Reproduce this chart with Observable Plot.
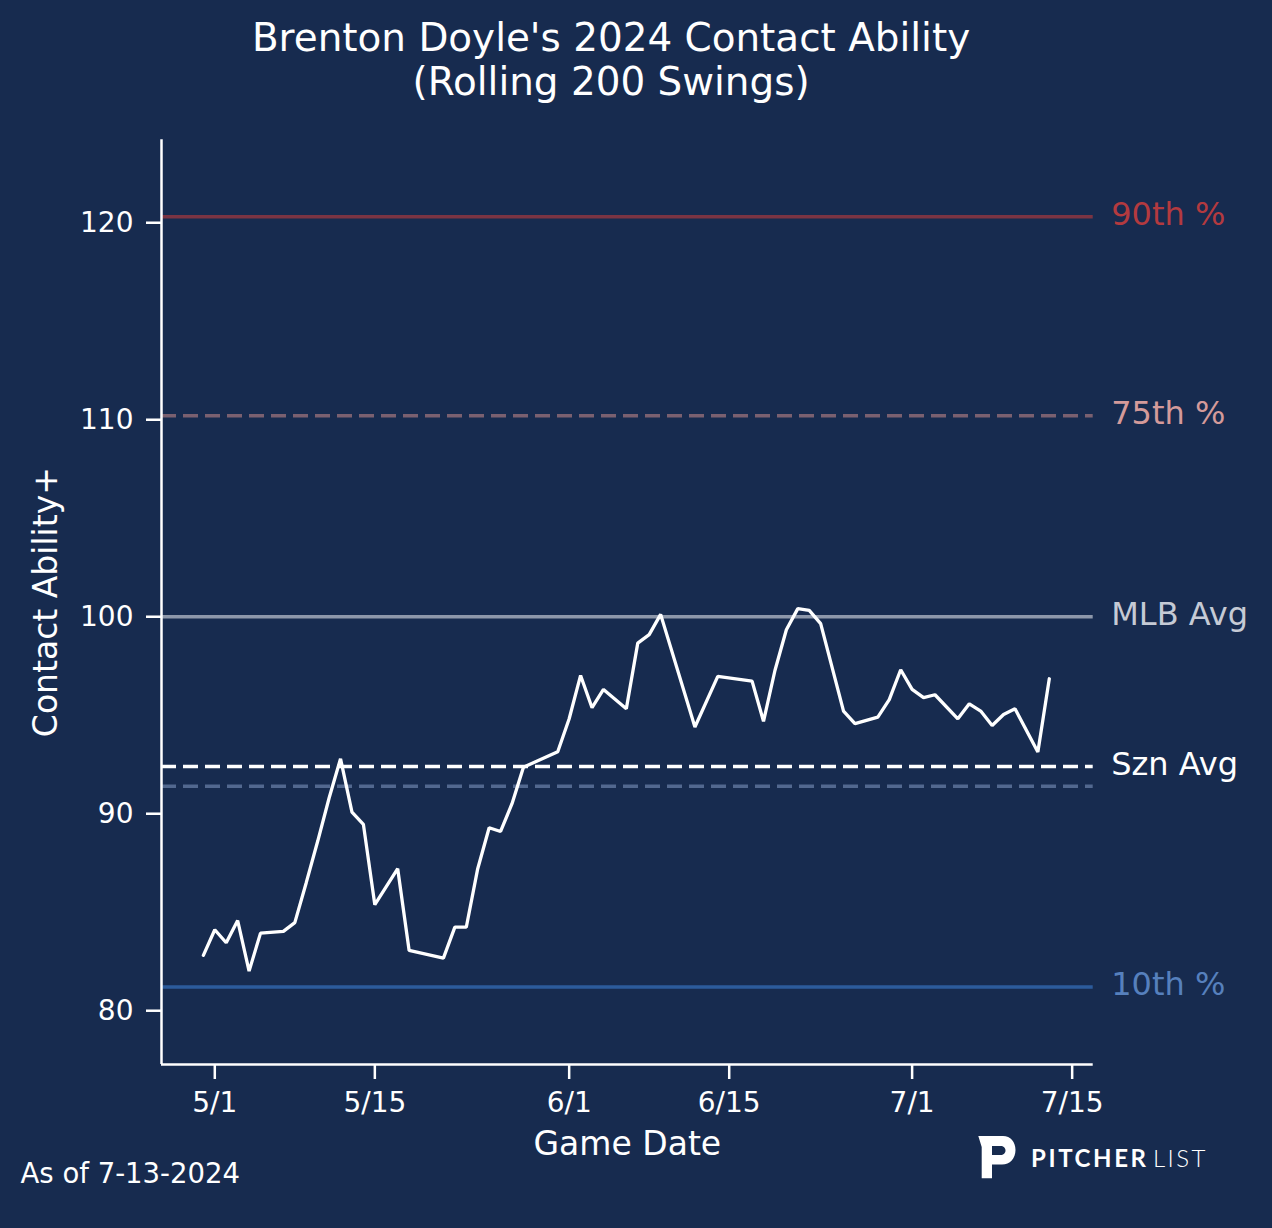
<!DOCTYPE html>
<html>
<head>
<meta charset="utf-8">
<script src="https://cdn.jsdelivr.net/npm/d3@7"></script>
<script src="https://cdn.jsdelivr.net/npm/@observablehq/plot@0.6"></script>
<style>
html, body { margin: 0; padding: 0; background: #172b4f; }
#chart svg { display: block; }
</style>
</head>
<body>
<div id="chart"></div>
<script>
// ---- Data ----
const dates = [
  "2024-04-30","2024-05-01","2024-05-02","2024-05-03","2024-05-04","2024-05-05","2024-05-07","2024-05-08",
  "2024-05-09","2024-05-10","2024-05-11","2024-05-12","2024-05-13","2024-05-14","2024-05-15","2024-05-17",
  "2024-05-18","2024-05-21","2024-05-22","2024-05-23","2024-05-24","2024-05-25","2024-05-26","2024-05-27",
  "2024-05-28","2024-05-31","2024-06-01","2024-06-02","2024-06-03","2024-06-04","2024-06-06","2024-06-07",
  "2024-06-08","2024-06-09","2024-06-12","2024-06-14","2024-06-17","2024-06-18","2024-06-19","2024-06-20",
  "2024-06-21","2024-06-22","2024-06-23","2024-06-25","2024-06-26","2024-06-28","2024-06-29","2024-06-30",
  "2024-07-01","2024-07-02","2024-07-03","2024-07-05","2024-07-06","2024-07-07","2024-07-08","2024-07-09",
  "2024-07-10","2024-07-12","2024-07-13"
];
const values = [
  82.81, 84.11, 83.45, 84.58, 82.01, 83.94, 84.03, 84.47,
  86.5, 88.6, 90.8, 92.79, 90.08, 89.46, 85.38, 87.21,
  83.06, 82.67, 84.24, 84.24, 87.21, 89.29, 89.10, 90.51,
  92.36, 93.15, 94.82, 97.02, 95.38, 96.31, 95.33, 98.66,
  99.09, 100.12, 94.40, 96.97, 96.73, 94.69, 97.27, 99.34,
  100.41, 100.32, 99.65, 95.21, 94.57, 94.90, 95.79, 97.31,
  96.31, 95.89, 96.04, 94.82, 95.58, 95.21, 94.48, 95.04,
  95.33, 93.13, 96.85
];
const refLabels = ["90th %", "75th %", "MLB Avg", "Szn Avg", "", "10th %"];
const refValues = [120.3, 110.2, 100, 92.4, 91.4, 81.2];
const xTicks = ["2024-05-01","2024-05-15","2024-06-01","2024-06-15","2024-07-01","2024-07-15"];
const xTickLabels = ["5/1","5/15","6/1","6/15","7/1","7/15"];
const yTicks = [80, 90, 100, 110, 120];
const titleLines = ["Brenton Doyle's 2024 Contact Ability", "(Rolling 200 Swings)"];
const xLabel = "Game Date";
const yLabel = "Contact Ability+";
const note = "As of 7-13-2024";
const logoBold = "PITCHER";
const logoLight = "LIST";

// ---- Styles (separate from data) ----
const refStyles = [
  {stroke: "#7b3443", dash: null, text: "#b33a3f"},
  {stroke: "#7a6070", dash: "15,7", text: "#d49a9a"},
  {stroke: "#8d97aa", dash: null, text: "#c5cad5"},
  {stroke: "#ffffff", dash: "15,7", text: "#ffffff"},
  {stroke: "#52688f", dash: "15,7", text: "#52688f"},
  {stroke: "#2c5b9b", dash: null, text: "#5680bd"}
];

const data = dates.map((d, i) => ({date: new Date(d), value: values[i]}));
const refData = refValues.map((v, i) => ({value: v, label: refLabels[i], i}));
const xDomain = [new Date("2024-04-26T08:07Z"), new Date("2024-07-16T20:10Z")];
const yDomain = [77.27, 124.21];
const tickMap = new Map(xTicks.map((d, i) => [+new Date(d), xTickLabels[i]]));

const refRules = refData.map(r => Plot.ruleY([r.value], {
  stroke: refStyles[r.i].stroke,
  strokeWidth: 3.5,
  strokeDasharray: refStyles[r.i].dash
}));
const refTexts = refData.filter(r => r.label).map(r => Plot.text([r], {
  y: "value",
  text: "label",
  frameAnchor: "right",
  textAnchor: "start",
  lineAnchor: "middle",
  dx: 18,
  dy: -2,
  fontSize: 32,
  fill: refStyles[r.i].text
}));

const chart = Plot.plot({
  width: 1272,
  height: 1228,
  marginLeft: 161,
  marginRight: 179.3,
  marginTop: 139.3,
  marginBottom: 164,
  x: {type: "utc", domain: xDomain},
  y: {domain: yDomain},
  style: {background: "#172b4f", fontFamily: "DejaVu Sans", color: "white", overflow: "visible"},
  marks: [
    ...refRules,
    Plot.line(data, {x: "date", y: "value", stroke: "white", strokeWidth: 3.3, strokeLinejoin: "miter"}),
    Plot.ruleX([xDomain[0]], {stroke: "white", strokeWidth: 2.5}),
    Plot.ruleY([yDomain[0]], {stroke: "white", strokeWidth: 2.5}),
    Plot.axisX(xTicks.map(d => new Date(d)), {
      tickFormat: d => tickMap.get(+d),
      tickSize: 15, tickPadding: 13, fontSize: 28,
      stroke: "white", fill: "white", strokeWidth: 2.5, label: null
    }),
    Plot.axisY(yTicks, {
      tickSize: 15, tickPadding: 13, fontSize: 28,
      stroke: "white", fill: "white", strokeWidth: 2.5, label: null
    }),
    ...refTexts,
    Plot.text([titleLines[0]], {text: d => d, frameAnchor: "top", lineAnchor: "middle", textAnchor: "middle", dx: -16.3, dy: -101, fontSize: 38.9, fill: "white"}),
    Plot.text([titleLines[1]], {text: d => d, frameAnchor: "top", lineAnchor: "middle", textAnchor: "middle", dx: -16.3, dy: -57, fontSize: 38.9, fill: "white"}),
    Plot.text([xLabel], {text: d => d, frameAnchor: "bottom", lineAnchor: "middle", textAnchor: "middle", dy: 80, fontSize: 33, fill: "white"}),
    Plot.text([yLabel], {text: d => d, frameAnchor: "left", lineAnchor: "middle", textAnchor: "middle", dx: -115, rotate: -90, fontSize: 33, fill: "white"}),
    Plot.text([note], {text: d => d, frameAnchor: "bottom-left", lineAnchor: "middle", textAnchor: "start", dx: -141, dy: 110, fontSize: 27.5, fill: "white"})
  ]
});

document.getElementById("chart").appendChild(chart);

// ---- Pitcher List logo (decorative) ----
const svg = d3.select(chart.tagName.toLowerCase() === "svg" ? chart : chart.querySelector("svg"));
const logo = svg.append("g").attr("class", "logo").attr("text-anchor", "start");
logo.append("path")
  .attr("fill", "white")
  .attr("fill-rule", "evenodd")
  .attr("d", "M978.3,1136 L1003,1136 C1010.5,1136 1015.5,1142 1015.5,1150 C1015.5,1158.5 1010,1164.5 1002,1164.5 L992,1164.5 L992,1178.3 L981.7,1178.3 L981.7,1147 Z " +
             "M992,1146 L1000.5,1146 C1003.5,1146 1005.5,1148 1005.5,1150.5 C1005.5,1153 1003.5,1155 1000.5,1155 L992,1155 Z");
logo.append("text")
  .attr("x", 1031).attr("y", 1166.7)
  .attr("text-anchor", "start")
  .attr("fill", "white")
  .attr("font-family", "Lato")
  .attr("font-weight", 700)
  .attr("font-size", 24)
  .attr("letter-spacing", 2.6)
  .text(logoBold);
logo.append("text")
  .attr("x", 1153).attr("y", 1166.7)
  .attr("text-anchor", "start")
  .attr("fill", "white")
  .attr("font-family", "Lato")
  .attr("font-weight", 300)
  .attr("font-size", 24)
  .attr("letter-spacing", 2.4)
  .text(logoLight);
</script>
</body>
</html>
